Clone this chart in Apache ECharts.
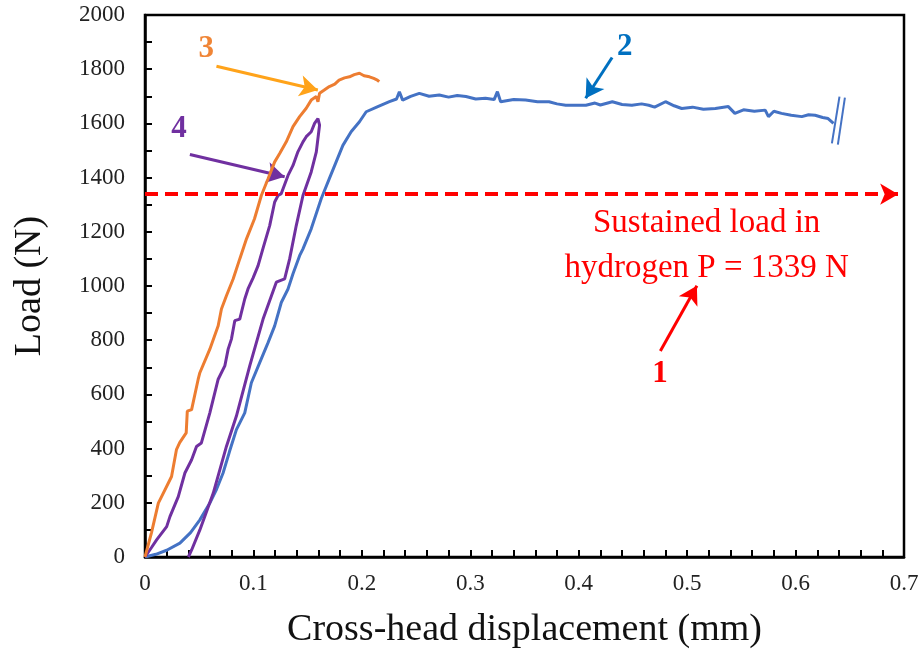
<!DOCTYPE html>
<html>
<head>
<meta charset="utf-8">
<script src="https://cdn.jsdelivr.net/npm/echarts@6/dist/echarts.min.js"></script>
<style>html,body{margin:0;padding:0;background:#fff}#c{width:924px;height:654px}</style>
</head>
<body>
<div id="c"></div>
<script>
// ---- Data (x: cross-head displacement in mm, y: load in N) ----
var curve3 = [[0,0],[0.006,90],[0.0123,199],[0.0153,223],[0.0245,297],[0.029,396],[0.032,422],[0.038,458],[0.039,538],[0.043,544],[0.049,655],[0.0506,680],[0.0598,767],[0.0675,853],[0.0705,915],[0.0751,964],[0.0813,1026],[0.0874,1100],[0.0936,1174],[0.101,1248],[0.1073,1334],[0.1135,1396],[0.1196,1458],[0.1242,1489],[0.1303,1532],[0.1365,1588],[0.1426,1625],[0.1487,1656],[0.1533,1686],[0.158,1699],[0.1595,1680],[0.161,1711],[0.165,1722],[0.170,1736],[0.175,1745],[0.179,1760],[0.184,1768],[0.1886,1772],[0.193,1780],[0.1978,1785],[0.202,1776],[0.207,1772],[0.211,1766],[0.2143,1760],[0.216,1754]];

var curve4 = [[0,0],[0.006,35],[0.0107,63],[0.02,112],[0.023,149],[0.0307,223],[0.0368,310],[0.043,359],[0.0475,408],[0.052,421],[0.0598,532],[0.0675,656],[0.0736,705],[0.0767,767],[0.0797,804],[0.0828,872],[0.0874,878],[0.092,952],[0.095,989],[0.0997,1030],[0.1043,1075],[0.1089,1140],[0.115,1223],[0.1196,1310],[0.1227,1334],[0.1257,1341],[0.1319,1408],[0.1365,1445],[0.141,1495],[0.1457,1532],[0.1487,1551],[0.1533,1569],[0.1564,1600],[0.1595,1618],[0.161,1594],[0.158,1495],[0.1533,1421],[0.1457,1334],[0.1395,1223],[0.1334,1100],[0.1288,1026],[0.1211,1014],[0.1089,878],[0.0966,705],[0.0843,520],[0.0751,408],[0.0629,235],[0.0506,100],[0.043,26],[0.040,0]];

var curve2 = [[0,0],[0.01,10],[0.02,25],[0.0322,51],[0.042,90],[0.0506,137],[0.0598,199],[0.066,250],[0.072,310],[0.078,390],[0.0843,470],[0.092,532],[0.0981,643],[0.1058,717],[0.1135,791],[0.1196,853],[0.1257,939],[0.1319,989],[0.1365,1045],[0.1426,1112],[0.1457,1137],[0.1533,1211],[0.1625,1322],[0.170,1396],[0.1763,1458],[0.1825,1519],[0.1901,1569],[0.1978,1606],[0.204,1643],[0.2147,1662],[0.2254,1680],[0.232,1690],[0.2346,1717],[0.2376,1686],[0.245,1700],[0.253,1711],[0.262,1700],[0.2714,1705],[0.28,1697],[0.288,1703],[0.296,1699],[0.305,1690],[0.314,1693],[0.322,1688],[0.325,1717],[0.328,1680],[0.34,1688],[0.351,1686],[0.362,1680],[0.3726,1680],[0.38,1672],[0.388,1667],[0.4066,1667],[0.415,1675],[0.42,1668],[0.431,1680],[0.44,1670],[0.449,1667],[0.458,1672],[0.4646,1667],[0.47,1660],[0.48,1680],[0.488,1665],[0.495,1655],[0.505,1660],[0.515,1652],[0.526,1655],[0.538,1662],[0.544,1637],[0.552,1650],[0.562,1645],[0.572,1649],[0.575,1625],[0.58,1645],[0.587,1637],[0.596,1630],[0.6057,1625],[0.612,1632],[0.618,1630],[0.625,1622],[0.630,1618],[0.635,1600]];

var sustainedLoad = 1339;
var xTicks = [0, 0.1, 0.2, 0.3, 0.4, 0.5, 0.6, 0.7];
var yTicks = [0, 200, 400, 600, 800, 1000, 1200, 1400, 1600, 1800, 2000];

// annotation arrows [from, to] in data units
var arrow3 = [[0.0659, 1811], [0.1594, 1723]];
var arrow4 = [[0.0414, 1485], [0.1288, 1403]];
var arrow2 = [[0.4308, 1843], [0.4064, 1693]];
var arrow1 = [[0.4753, 760], [0.509, 1001]];
var breakMarks = [[[0.6405, 1699], [0.6335, 1526]], [[0.6455, 1695], [0.6390, 1522]]];
// label anchor positions in data units
var labels = [
  {text: '3', pos: [0.0565, 1875], color: '#F08536'},
  {text: '4', pos: [0.0313, 1578], color: '#7030A0'},
  {text: '2', pos: [0.4425, 1882], color: '#0070C0'},
  {text: '1', pos: [0.475, 675], color: '#FF0000'}
];
var loadText = ['Sustained load in', 'hydrogen P = 1339 N'];
var loadTextPos = [0.518, 1150];

var FONT = '"Liberation Serif", "Times New Roman", serif';

function seg(a, b) { return [{coord: a}, {coord: b}]; }

var chart = echarts.init(document.getElementById('c'));
var option = {
  animation: false,
  backgroundColor: '#fff',
  grid: {left: 145, top: 15, right: 20, bottom: 97, show: true, borderColor: '#000', borderWidth: 2.5},
  xAxis: {
    type: 'value', min: xTicks[0], max: xTicks[xTicks.length-1], interval: 0.1,
    name: 'Cross-head displacement (mm)', nameLocation: 'middle', nameGap: 54,
    nameTextStyle: {fontFamily: FONT, fontSize: 38, color: '#111'},
    axisLine: {lineStyle: {color: '#000', width: 2.5}},
    axisTick: {inside: true, length: 7, lineStyle: {color: '#000', width: 2}},
    minorTick: {show: true, splitNumber: 5, length: 7, lineStyle: {color: '#000', width: 2}},
    splitLine: {show: false},
    axisLabel: {fontFamily: FONT, fontSize: 23, color: '#222', margin: 15,
      formatter: function(v){ return String(Math.round(v*10)/10); }}
  },
  yAxis: {
    type: 'value', min: yTicks[0], max: yTicks[yTicks.length-1], interval: 200,
    name: 'Load (N)', nameLocation: 'middle', nameGap: 96,
    nameTextStyle: {fontFamily: FONT, fontSize: 38, color: '#111'},
    axisLine: {lineStyle: {color: '#000', width: 2.5}},
    axisTick: {inside: true, length: 7, lineStyle: {color: '#000', width: 2}},
    minorTick: {show: true, splitNumber: 2, length: 7, lineStyle: {color: '#000', width: 2}},
    splitLine: {show: false},
    axisLabel: {fontFamily: FONT, fontSize: 23, color: '#222', margin: 20,
      formatter: function(v){ return String(Math.round(v)); }}
  },
  series: [
    {type: 'line', name: '2', data: curve2, showSymbol: false, lineStyle: {color: '#4472C4', width: 3}, z: 3,
      markLine: {silent: true, symbol: ['none', 'none'], label: {show: false},
        lineStyle: {color: '#4472C4', width: 2, type: 'solid'},
        data: [seg(breakMarks[0][0], breakMarks[0][1]), seg(breakMarks[1][0], breakMarks[1][1])]}},
    {type: 'line', name: '4', data: curve4, showSymbol: false, lineStyle: {color: '#7030A0', width: 3}, z: 4},
    {type: 'line', name: '3', data: curve3, showSymbol: false, lineStyle: {color: '#ED7D31', width: 3}, z: 5},
    {type: 'line', name: 'annot', data: [], z: 6,
      markLine: {silent: true, symbol: ['none', 'arrow'], symbolSize: [16, 18], label: {show: false},
        data: [
          [{coord: arrow3[0], lineStyle: {color: '#FFA31A', width: 3, type: 'solid'}}, {coord: arrow3[1]}],
          [{coord: arrow4[0], lineStyle: {color: '#7030A0', width: 3, type: 'solid'}}, {coord: arrow4[1]}],
          [{coord: arrow2[0], lineStyle: {color: '#0070C0', width: 3, type: 'solid'}}, {coord: arrow2[1]}],
          [{coord: arrow1[0], lineStyle: {color: '#FF0000', width: 3, type: 'solid'}}, {coord: arrow1[1]}],
          [{coord: [0, sustainedLoad], lineStyle: {color: '#FF0000', width: 4, type: [13, 7]}, symbolSize: [16, 18]}, {coord: [0.6946, sustainedLoad]}]
        ]}}
  ]
};
chart.setOption(option);

var g = [];
labels.forEach(function(l){
  var p = chart.convertToPixel({gridIndex: 0}, l.pos);
  g.push({type: 'text', x: p[0], y: p[1], style: {text: l.text, fill: l.color,
    font: 'bold 31px ' + FONT, textAlign: 'center', textVerticalAlign: 'middle'}, z: 10});
});
var tp = chart.convertToPixel({gridIndex: 0}, loadTextPos);
g.push({type: 'text', x: tp[0], y: tp[1], style: {text: loadText.join('\n'), fill: '#FF0000',
  font: '33px ' + FONT, textAlign: 'center', textVerticalAlign: 'middle', lineHeight: 45}, z: 10});
chart.setOption({graphic: g});
</script>
</body>
</html>
